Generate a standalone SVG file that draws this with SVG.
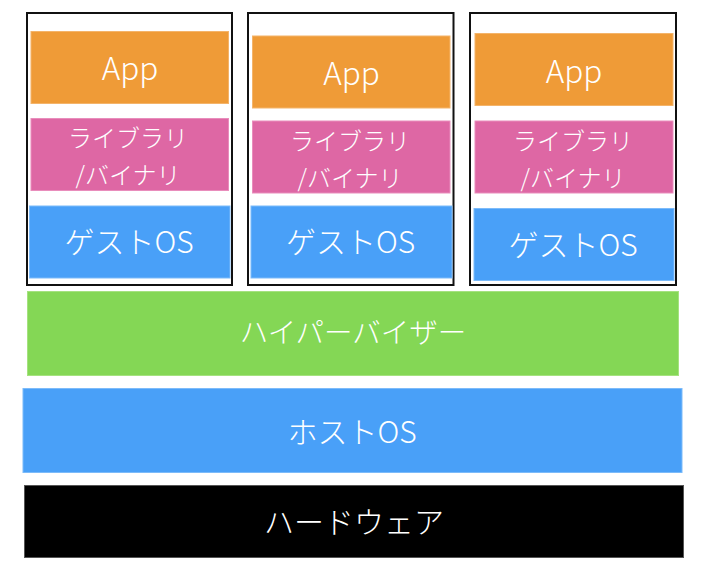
<svg xmlns="http://www.w3.org/2000/svg" width="702" height="574" viewBox="0 0 702 574">
<style>
.frame{fill:#fff;stroke:#111;stroke-width:2}
.app{fill:#EF9B37;stroke:#F4B46A;stroke-width:1}
.lib{fill:#DE67A4;stroke:#E98DBC;stroke-width:1}
.os{fill:#49A0F8;stroke:#7CBBFA;stroke-width:1}
.hv{fill:#84D755;stroke:#A5E27F;stroke-width:1}
.hw{fill:#000;stroke:#555;stroke-width:1}
text{font-family:"Noto Sans CJK JP","Noto Sans",sans-serif;font-weight:300;fill:#fff;text-anchor:middle}
.big{font-size:30px}
.app-t{font-size:31.5px}
.mid{font-size:24px}
.hvt{font-size:28.5px}
</style>
<rect width="702" height="574" fill="#fff"/>
<g id="vm1">
<rect class="frame" x="27" y="13" width="205" height="272"/>
<rect class="app" x="31" y="31.5" width="197.5" height="72"/>
<text class="app-t" x="130" y="80">App</text>
<rect class="lib" x="31" y="118.5" width="197.5" height="72"/>
<text class="mid" x="128" y="147">ライブラリ</text>
<text class="mid" x="128" y="184">/バイナリ</text>
<rect class="os" x="29.5" y="206" width="200.5" height="72"/>
<text class="big" x="129" y="253">ゲストOS</text>
</g>
<g id="vm2">
<rect class="frame" x="248" y="13" width="205.5" height="272"/>
<rect class="app" x="252.5" y="36" width="197.5" height="72"/>
<text class="app-t" x="351.5" y="85">App</text>
<rect class="lib" x="252.5" y="121" width="197.5" height="72"/>
<text class="mid" x="350" y="149.5">ライブラリ</text>
<text class="mid" x="350" y="186.5">/バイナリ</text>
<rect class="os" x="251" y="206" width="201" height="72"/>
<text class="big" x="350.5" y="253">ゲストOS</text>
</g>
<g id="vm3">
<rect class="frame" x="470" y="13" width="206" height="272"/>
<rect class="app" x="475" y="33.5" width="198" height="72"/>
<text class="app-t" x="574" y="82.5">App</text>
<rect class="lib" x="475" y="121" width="198" height="72"/>
<text class="mid" x="573" y="149.5">ライブラリ</text>
<text class="mid" x="573" y="186.5">/バイナリ</text>
<rect class="os" x="474" y="208.5" width="200" height="72"/>
<text class="big" x="573" y="255.5">ゲストOS</text>
</g>
<g id="hypervisor">
<rect class="hv" x="27.5" y="291.5" width="651" height="84"/>
<text class="hvt" x="353" y="343">ハイパーバイザー</text>
</g>
<g id="hostos">
<rect class="os" x="23" y="388.5" width="659" height="84"/>
<text class="big" x="352" y="443">ホストOS</text>
</g>
<g id="hardware">
<rect class="hw" x="24.5" y="485.5" width="659" height="72"/>
<text class="big" x="354" y="533">ハードウェア</text>
</g>
<g id="connectors"/>
</svg>
